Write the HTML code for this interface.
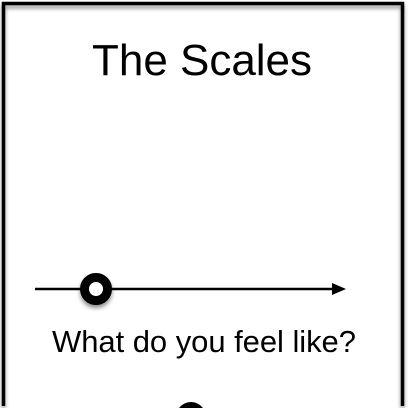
<!DOCTYPE html>
<html><head><meta charset="utf-8"><style>
html,body{margin:0;padding:0;background:#fff;width:408px;height:408px;overflow:hidden}
svg{display:block;overflow:hidden}
text{font-family:"Liberation Sans",sans-serif;fill:#000}
</style></head><body>
<svg width="408" height="408" viewBox="0 0 408 408">
<defs>
<filter id="sh" x="-50%" y="-50%" width="200%" height="200%"><feDropShadow dx="0" dy="3" stdDeviation="2" flood-color="#000" flood-opacity="0.45"/></filter>
</defs>
<path d="M3.5,406 L3.5,3.5 L402.5,3.5 L402.5,406" fill="none" stroke="#000" stroke-width="3.5" filter="url(#sh)"/>
<text x="202" y="75" font-size="44" text-anchor="middle" textLength="220">The Scales</text>
<line x1="35" y1="289" x2="334" y2="289" stroke="#000" stroke-width="2.5"/>
<polygon points="332,283 346,289 332,295" fill="#000"/>
<circle cx="96" cy="289" r="11.5" fill="#fff" stroke="#000" stroke-width="9" filter="url(#sh)"/>
<text x="204" y="352" font-size="31" text-anchor="middle" textLength="304">What do you feel like?</text>
<path d="M179,408 A15,15 0 0 1 203,408 Z" fill="#000"/>
</svg>
</body></html>
